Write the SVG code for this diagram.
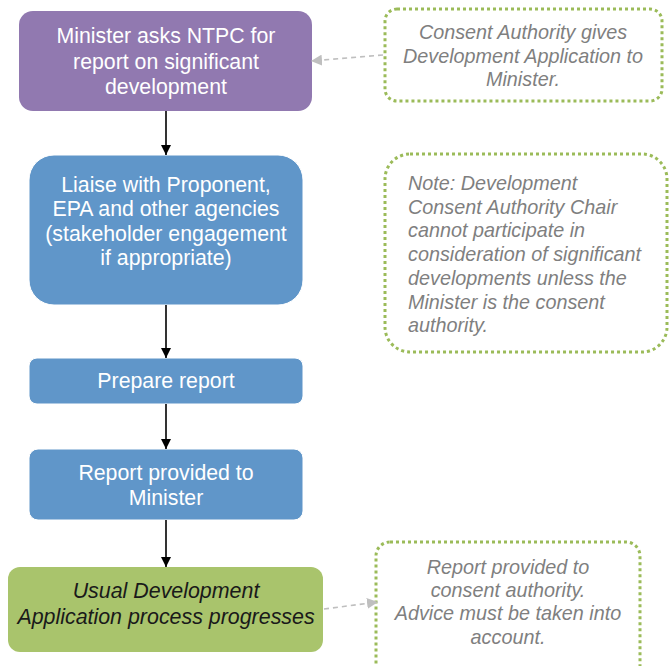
<svg xmlns="http://www.w3.org/2000/svg" width="669" height="666" viewBox="0 0 669 666">
<defs>
<marker id="ab" viewBox="0 0 10 10" refX="10" refY="5" markerWidth="10" markerHeight="10" markerUnits="userSpaceOnUse" orient="auto"><path d="M0,0 L10,5 L0,10 Z" fill="#000"/></marker>
<marker id="ag" viewBox="0 0 10 10" refX="10" refY="5" markerWidth="11" markerHeight="11" markerUnits="userSpaceOnUse" orient="auto"><path d="M0,0 L10,5 L0,10 Z" fill="#bfbfbf"/></marker>
</defs>
<style>
.wt{font-family:"Liberation Sans",Arial,sans-serif;font-size:21.3px;fill:#fff;text-anchor:middle}
.gt{font-family:"Liberation Sans",Arial,sans-serif;font-size:19.8px;font-style:italic;fill:#7f7f7f}
.dt{font-family:"Liberation Sans",Arial,sans-serif;font-size:21.4px;font-style:italic;fill:#1a1a1a;text-anchor:middle}
.note{fill:#fff;stroke:#9bbb59;stroke-width:3;stroke-dasharray:3 3}
.blue{fill:#6096c9;stroke:#fff;stroke-width:1}
.arr{stroke:#000;stroke-width:1.6;fill:none;marker-end:url(#ab)}
.darr{stroke:#bfbfbf;stroke-width:1.6;stroke-dasharray:5 4;fill:none;marker-end:url(#ag)}
</style>
<g id="n1">
<rect x="19" y="11" width="293" height="100" rx="14" fill="#9179b0"/>
<text class="wt" x="166" y="43">Minister asks NTPC for</text>
<text class="wt" x="166" y="69">report on significant</text>
<text class="wt" x="166" y="94">development</text>
</g>
<g id="c1">
<rect class="note" x="385" y="9" width="277" height="92" rx="12"/>
<text class="gt" text-anchor="middle" x="523" y="39">Consent Authority gives</text>
<text class="gt" text-anchor="middle" x="523" y="63">Development Application to</text>
<text class="gt" text-anchor="middle" x="523" y="86">Minister.</text>
</g>
<g id="n2">
<rect class="blue" x="29" y="155" width="274" height="150" rx="25"/>
<text class="wt" x="166" y="192">Liaise with Proponent,</text>
<text class="wt" x="166" y="216">EPA and other agencies</text>
<text class="wt" x="166" y="241">(stakeholder engagement</text>
<text class="wt" x="166" y="265">if appropriate)</text>
</g>
<g id="c2">
<rect class="note" x="385" y="154" width="282" height="198" rx="25"/>
<text class="gt" x="408" y="190">Note: Development</text>
<text class="gt" x="408" y="214">Consent Authority Chair</text>
<text class="gt" x="408" y="237">cannot participate in</text>
<text class="gt" x="408" y="261">consideration of significant</text>
<text class="gt" x="408" y="285">developments unless the</text>
<text class="gt" x="408" y="309">Minister is the consent</text>
<text class="gt" x="408" y="332">authority.</text>
</g>
<g id="n3">
<rect class="blue" x="29" y="358" width="274" height="46" rx="8"/>
<text class="wt" x="166" y="388">Prepare report</text>
</g>
<g id="n4">
<rect class="blue" x="29" y="449" width="274" height="71" rx="9"/>
<text class="wt" x="166" y="480">Report provided to</text>
<text class="wt" x="166" y="505">Minister</text>
</g>
<g id="n5">
<rect x="8" y="567" width="315" height="85" rx="12" fill="#a9c46c"/>
<text class="dt" x="166" y="598">Usual Development</text>
<text class="dt" x="166" y="624">Application process progresses</text>
</g>
<g id="c3">
<rect class="note" x="376" y="542" width="264" height="140" rx="14"/>
<text class="gt" text-anchor="middle" x="508" y="574">Report provided to</text>
<text class="gt" text-anchor="middle" x="508" y="597">consent authority.</text>
<text class="gt" text-anchor="middle" x="508" y="620">Advice must be taken into</text>
<text class="gt" text-anchor="middle" x="508" y="644">account.</text>
</g>
<g id="connectors">
<path class="arr" d="M166,111 V155"/>
<path class="arr" d="M166,305 V358"/>
<path class="arr" d="M166,404 V449"/>
<path class="arr" d="M166,520 V567"/>
<path class="darr" d="M383,55 L311,61"/>
<path class="darr" d="M324,609 L378,602"/>
</g>
</svg>
